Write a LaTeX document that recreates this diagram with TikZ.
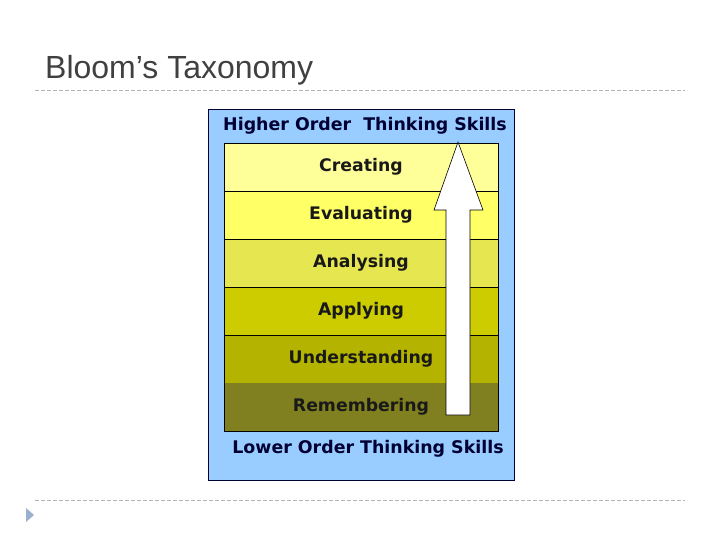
\documentclass[tikz,border=0pt]{standalone}
\usepackage{fontspec}
\setmainfont{Liberation Sans}
\newfontfamily\labelfont{DejaVu Sans}
\definecolor{skyblue}{HTML}{99CCFF}
\definecolor{navy}{HTML}{000033}
\definecolor{titlegray}{HTML}{404040}
\definecolor{rulegray}{HTML}{B4B4B4}
\definecolor{creatingcol}{HTML}{FFFF99}
\definecolor{evaluatingcol}{HTML}{FFFF66}
\definecolor{analysingcol}{HTML}{E6E650}
\definecolor{applyingcol}{HTML}{CCCC00}
\definecolor{understandingcol}{HTML}{B4B400}
\definecolor{rememberingcol}{HTML}{808020}
\definecolor{markercol}{HTML}{9AB0CC}
\tikzset{
  band/.style={minimum width=274pt,minimum height=48pt,inner sep=0pt,
    font=\labelfont\bfseries\fontsize{17.3}{19}\selectfont,text=black!90},
  skills/.style={inner sep=0pt,text=navy,font=\labelfont\bfseries\fontsize{17.4}{19}\selectfont}
}
\begin{document}
\begin{tikzpicture}[x=1pt,y=-1pt]
\useasboundingbox (0,0) rectangle (720,540);

\node[anchor=base west,inner sep=0pt,text=titlegray,font=\fontsize{32}{36}\selectfont] (title) at (45,79) {Bloom’s Taxonomy};
\draw[rulegray,dashed,dash pattern=on 4pt off 2pt] (35,90) -- (685,90);
\draw[rulegray,dashed,dash pattern=on 4pt off 2pt] (35,500) -- (685,500);
\fill[markercol] (26,508) -- (34,515) -- (26,522) -- cycle;

\draw[navy,fill=skyblue] (208,109) rectangle (514,480);

\node[band,fill=creatingcol] (creating) at (361,167) {Creating};
\node[band,fill=evaluatingcol] (evaluating) at (361,215) {Evaluating};
\node[band,fill=analysingcol] (analysing) at (361,263) {Analysing};
\node[band,fill=applyingcol] (applying) at (361,311) {Applying};
\node[band,fill=understandingcol] (understanding) at (361,359) {Understanding};
\node[band,fill=rememberingcol] (remembering) at (361,407) {Remembering};

\draw (creating.north west) rectangle (remembering.south east);
\draw (creating.south west) -- (creating.south east);
\draw (evaluating.south west) -- (evaluating.south east);
\draw (analysing.south west) -- (analysing.south east);
\draw (applying.south west) -- (applying.south east);

\node[skills] (higher) at (365,126) {Higher Order\ \ Thinking Skills};
\node[skills] (lower) at (368,449) {Lower Order Thinking Skills};

\draw[fill=white,line width=0.6pt] (446,415) -- (470,415) -- (470,210) -- (483,210)
  -- (458,142) -- (434,210) -- (446,210) -- cycle;

\end{tikzpicture}
\end{document}
